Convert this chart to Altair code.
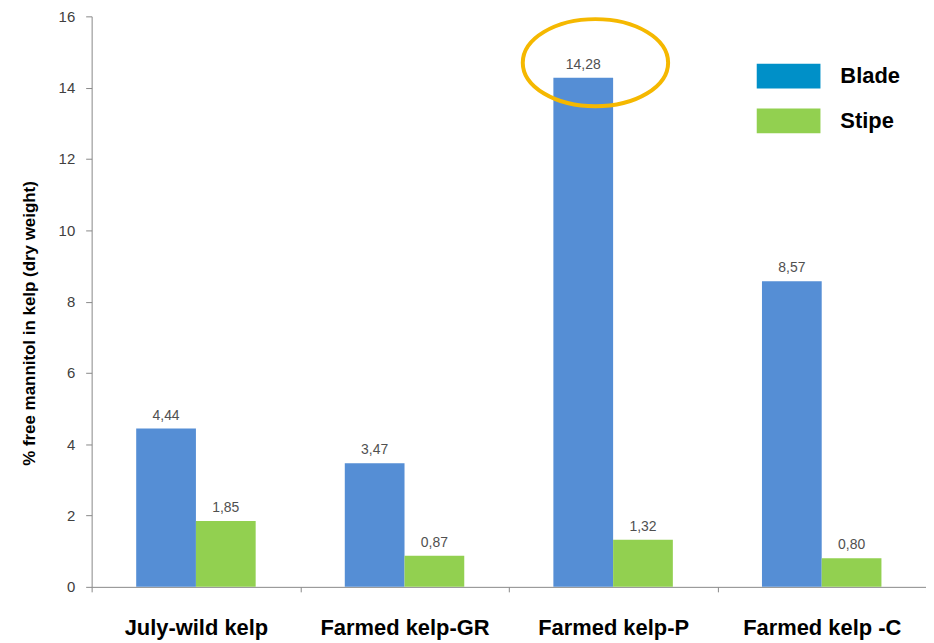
import altair as alt
import pandas as pd

categories = ["July-wild kelp", "Farmed kelp-GR", "Farmed kelp-P", "Farmed kelp -C"]
blade = [4.44, 3.47, 14.28, 8.57]
stipe = [1.85, 0.87, 1.32, 0.80]
series = ["Blade", "Stipe"]
bar_colors = ["#558ED5", "#92D050"]
legend_colors = ["#0090C8", "#92D050"]
highlight = "Farmed kelp-P"
y_title = "% free mannitol in kelp (dry weight)"

rows = []
for c, b, s in zip(categories, blade, stipe):
    rows.append({"cat": c, "series": "Blade", "value": b})
    rows.append({"cat": c, "series": "Stipe", "value": s})
df = pd.DataFrame(rows)
df["label"] = df["value"].map(lambda v: f"{v:.2f}".replace(".", ","))
legend_df = pd.DataFrame({"key": series})

FONT = "Liberation Sans"

x_enc = alt.X(
    "cat:N", sort=categories,
    scale=alt.Scale(paddingInner=0, paddingOuter=0),
    axis=alt.Axis(title=None, labelAngle=0, tickBand="extent", ticks=True,
                  labelFontSize=22, labelFontWeight="bold", labelColor="black",
                  labelPadding=26, tickSize=5, domainColor="#888888",
                  tickColor="#888888", labelFont=FONT),
)
xoff = alt.XOffset("series:N", sort=series,
                   scale=alt.Scale(paddingInner=0, paddingOuter=0.746))
y_enc = alt.Y(
    "value:Q",
    scale=alt.Scale(domain=[0, 16], nice=False),
    axis=alt.Axis(title=y_title, values=list(range(0, 17, 2)), grid=False,
                  labelFontSize=15, labelColor="#404040", labelPadding=11,
                  tickSize=6, domainColor="#888888", tickColor="#888888",
                  titleFontSize=17, titleFontWeight="bold", titleColor="black",
                  titleX=-53, titleY=308, labelFont=FONT, titleFont=FONT),
)

base = alt.Chart(df)

bars = base.mark_bar().encode(
    x=x_enc, xOffset=xoff, y=y_enc,
    fill=alt.Fill("series:N", sort=series,
                  scale=alt.Scale(domain=series, range=bar_colors), legend=None),
)

labels = base.mark_text(baseline="alphabetic", dy=-9, fontSize=14, color="#505050", font=FONT).encode(
    x=x_enc, xOffset=xoff, y=y_enc, text="label:N",
)

legend_layer = alt.Chart(legend_df).mark_point(filled=True, size=0).encode(
    color=alt.Color("key:N", sort=series,
                    scale=alt.Scale(range=legend_colors),
                    legend=alt.Legend(title=None, orient="none", legendX=668, legendY=28,
                                      symbolType="M-1,-0.39H1V0.39H-1Z", symbolSize=4096,
                                      symbolOpacity=1, symbolStrokeWidth=0,
                                      labelFontSize=22, labelFontWeight="bold",
                                      labelColor="black", labelOffset=20,
                                      rowPadding=-19, padding=0, labelFont=FONT)),
)

ellipse = base.transform_filter(
    (alt.datum.cat == highlight) & (alt.datum.series == "Blade")
).mark_point(
    shape="M-1,0A1,0.6 0 1,1 1,0A1,0.6 0 1,1 -1,0Z", size=21316,
    filled=False, stroke="#F5B800", strokeWidth=4, opacity=1,
).encode(
    x=x_enc, xOffset=alt.value(87), y=y_enc, yOffset=alt.value(-15),
)

chart = alt.layer(bars, labels, legend_layer, ellipse).properties(
    width=838, height=573,
    padding={"left": 84, "top": 7, "right": 0, "bottom": 55},
    autosize=alt.AutoSizeParams(type="none"),
).configure(font=FONT).configure_view(stroke=None)

chart.save("out.html", embed_options={"renderer": "svg", "actions": False})
